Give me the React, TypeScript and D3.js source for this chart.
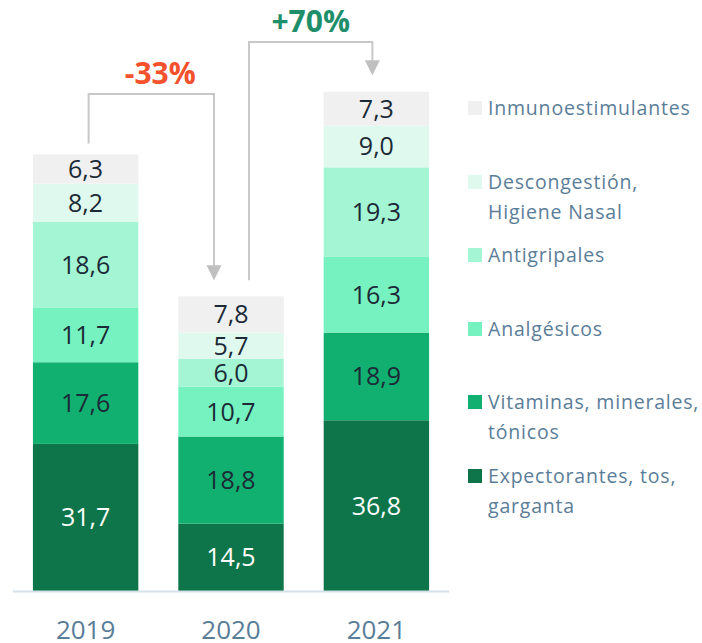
import React from "react";
import * as d3 from "d3";

const years = ["2019", "2020", "2021"];
const seriesNames = [
  "Expectorantes, tos, garganta",
  "Vitaminas, minerales, tónicos",
  "Analgésicos",
  "Antigripales",
  "Descongestión, Higiene Nasal",
  "Inmunoestimulantes",
];
const legendLines = [
  ["Expectorantes, tos,", "garganta"],
  ["Vitaminas, minerales,", "tónicos"],
  ["Analgésicos"],
  ["Antigripales"],
  ["Descongestión,", "Higiene Nasal"],
  ["Inmunoestimulantes"],
];
const expectorantes = [31.7, 14.5, 36.8];
const vitaminas = [17.6, 18.8, 18.9];
const analgesicos = [11.7, 10.7, 16.3];
const antigripales = [18.6, 6.0, 19.3];
const descongestion = [8.2, 5.7, 9.0];
const inmuno = [6.3, 7.8, 7.3];
const changeLabels = ["-33%", "+70%"];

const colors = ["#0e754a", "#12b070", "#76f2c0", "#a3f5d3", "#e0f9ee", "#f0f0f0"];
const changeColors = ["#f4512c", "#1e8f6a"];

export default function App() {
  const seriesValues = [expectorantes, vitaminas, analgesicos, antigripales, descongestion, inmuno];
  const rows = years.map((y, i) => {
    const r: any = { year: y };
    seriesNames.forEach((s, k) => (r[s] = seriesValues[k][i]));
    return r;
  });
  const stacked = d3.stack<any>().keys(seriesNames)(rows);

  const x = d3.scaleBand<string>().domain(years).range([13, 449]).paddingInner(0.275).paddingOuter(0.137);
  const y = d3.scaleLinear().domain([0, 110]).range([591, 591 - 110 * 4.64]);

  const totals = years.map((_, i) => d3.sum(seriesValues, (s) => s[i]));
  const fmt = (v: number) => v.toFixed(1).replace(".", ",");
  const font = "'Open Sans', 'Noto Sans', sans-serif";
  const bw = x.bandwidth();
  const cx = (yr: string) => (x(yr) as number) + bw / 2;

  const b1 = {
    x1: cx(years[0]) + 3,
    y1: y(totals[0]) - 11,
    top: 94,
    x2: cx(years[1]) - 17,
    y2: y(totals[1]) - 16,
  };
  const b2 = {
    x1: cx(years[1]) + 18,
    y1: y(totals[1]) - 16,
    top: 42,
    x2: cx(years[2]) - 4,
    y2: y(totals[2]) - 16.5,
  };
  const brackets = [b1, b2];

  const legendY = [476, 402, 329, 255, 182, 108];

  return (
    <svg width={702} height={643} style={{ position: "absolute", left: 0, top: 0 }} fontFamily={font}>
      {stacked.map((layer, k) =>
        layer.map((d, i) => {
          const yr = years[i];
          const y0 = y(d[0]);
          const y1 = y(d[1]);
          return (
            <g key={`${k}-${i}`}>
              <rect x={x(yr)} y={y1} width={bw} height={y0 - y1} fill={colors[k]} />
              <text
                x={cx(yr)}
                y={(y0 + y1) / 2 + 9}
                textAnchor="middle"
                fontSize={25}
                fill={k === 0 ? "#ffffff" : "#1b2a36"}
              >
                {fmt(seriesValues[k][i])}
              </text>
            </g>
          );
        })
      )}
      <line x1={13} x2={449} y1={y(0) + 0.5} y2={y(0) + 0.5} stroke="#d5e0e8" strokeWidth={2} />
      {years.map((yr) => (
        <text key={yr} x={cx(yr)} y={639} textAnchor="middle" fontSize={26} fill="#5a7d98">
          {yr}
        </text>
      ))}
      {brackets.map((b, i) => (
        <g key={i}>
          <path
            d={`M${b.x1},${b.y1}V${b.top}H${b.x2}V${b.y2 - 14}`}
            fill="none"
            stroke="#c8c8c8"
            strokeWidth={2}
          />
          <path d={`M${b.x2 - 7.5},${b.y2 - 15}L${b.x2 + 7.5},${b.y2 - 15}L${b.x2},${b.y2}Z`} fill="#c0c0c0" />
          <text
            x={(b.x1 + b.x2) / 2 + (i === 0 ? 9 : 0)}
            y={b.top - 10}
            textAnchor="middle"
            fontSize={30}
            fontWeight="bold"
            fill={changeColors[i]}
          >
            {changeLabels[i]}
          </text>
        </g>
      ))}
      {seriesNames.map((s, k) => (
        <g key={s}>
          <rect x={468} y={legendY[k] - 7} width={14} height={14} fill={colors[k]} />
          {legendLines[k].map((line, j) => (
            <text key={j} x={488} y={legendY[k] + 7 + j * 30} fontSize={19.5} letterSpacing={0.8} fill="#5a7d98">
              {line}
            </text>
          ))}
        </g>
      ))}
    </svg>
  );
}
